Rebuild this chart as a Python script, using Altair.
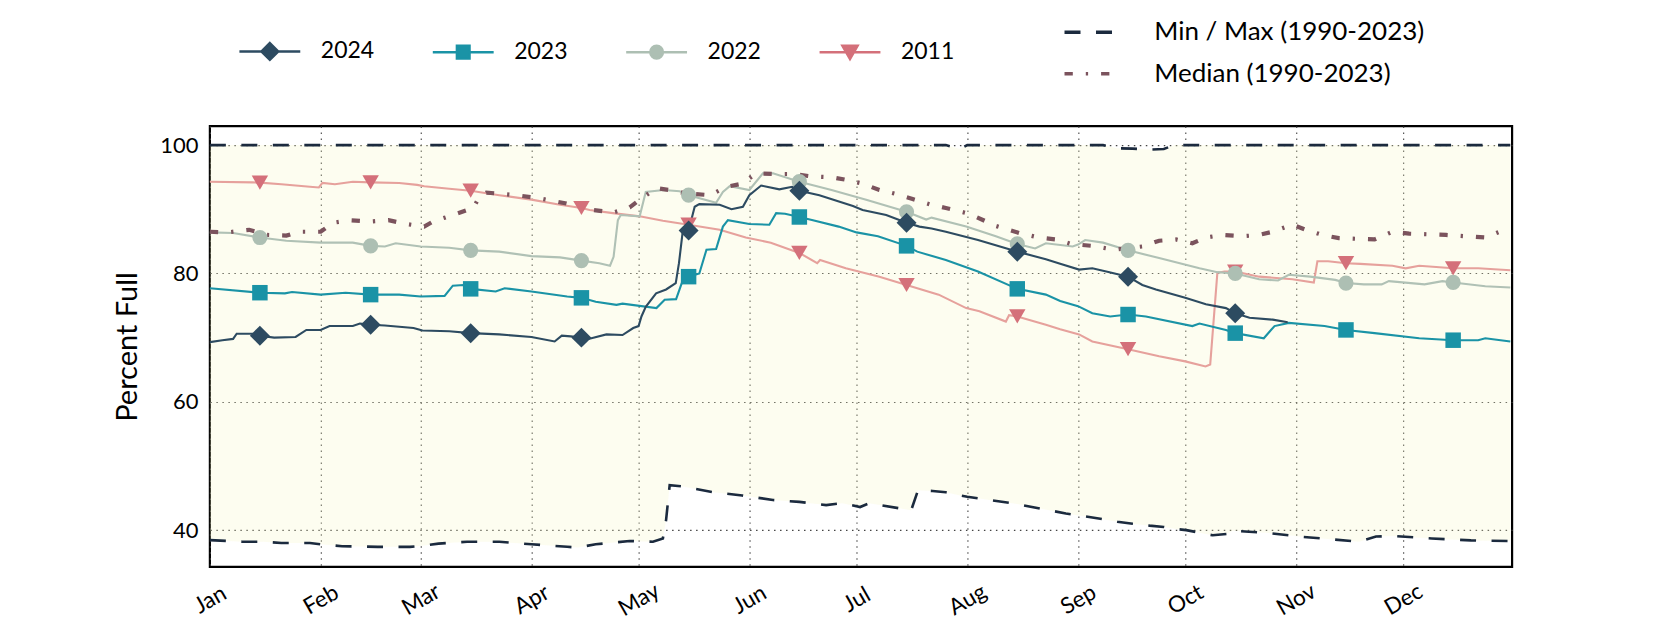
import altair as alt
import pandas as pd

FONT = "Lato"
BASE = pd.Timestamp("2023-01-01")

# ---------------- data (day of year, 0 = Jan 1) ----------------
doy_2024 = [0, 3.5, 6.5, 7.5, 12, 14, 18, 24, 27, 31, 33.5, 40, 42, 45, 49, 57, 59.5, 67, 73, 81,
            90, 96.5, 98.5, 101, 104, 106, 111, 115.5, 118.5, 120, 120.8, 122, 124.9, 127.7, 130.4,
            131.3, 132.3, 134, 135.7, 137, 142.7, 146, 149.2, 151, 154.3, 159.4, 163, 165, 170.6,
            180, 182.7, 189.3, 195, 198.6, 202, 206, 215, 224.7, 226, 234, 238, 243.3, 247, 251.8,
            257, 261, 264.8, 273, 278.8, 284.4, 287, 291, 297.5, 301.7]
pct_2024 = [69.3, 69.6, 69.8, 70.6, 70.6, 70.3, 70.0, 70.1, 71.2, 71.2, 71.8, 71.8, 72.2, 72.0, 71.9,
            71.5, 71.1, 71.0, 70.7, 70.5, 70.1, 69.4, 70.3, 70.2, 70.0, 69.8, 70.5, 70.4, 71.5, 71.8,
            73.3, 74.8, 76.9, 77.5, 78.5, 81.6, 86.3, 86.7, 90.4, 90.8, 90.7, 90.0, 90.4, 92.2, 93.7,
            93.1, 93.5, 92.9, 92.2, 90.5, 89.9, 89.1, 87.9, 87.3, 87.0, 86.5, 85.2, 83.6, 83.4, 82.2,
            81.5, 80.6, 80.8, 80.2, 79.5, 78.2, 77.5, 76.2, 75.2, 74.6, 73.8, 73.1, 72.8, 72.4]

doy_2023 = [0, 14, 21, 23, 31, 38, 45, 53, 59, 65.7, 68, 71, 73, 80, 82.5, 90, 100, 104, 108, 113.8,
            115.5, 125, 127.3, 130.5, 132.4, 134, 137, 139, 141.7, 143.6, 145, 151, 156.6, 158.5,
            161, 165, 168.8, 176, 181, 187, 195, 198, 206, 215, 226, 234, 238, 243, 247, 252, 257,
            262, 275, 277, 284.4, 287, 295, 298, 302, 312, 318, 326, 338.5, 348, 355, 357, 364]
pct_2023 = [77.7, 77.0, 76.9, 77.1, 76.7, 77.0, 76.7, 76.7, 76.4, 76.5, 78.1, 78.2, 77.6, 77.2, 77.7,
            77.2, 76.4, 76.2, 75.6, 75.1, 75.3, 74.6, 75.9, 76.0, 79.0, 79.5, 80.0, 83.7, 83.8, 87.3,
            88.3, 87.7, 87.6, 89.4, 89.3, 88.8, 88.3, 87.3, 86.4, 85.8, 84.3, 83.4, 82.1, 80.3, 77.6,
            76.7, 75.7, 74.9, 73.8, 73.3, 73.6, 73.3, 71.8, 72.2, 71.2, 70.7, 69.9, 71.8, 72.3, 71.8,
            71.2, 70.7, 69.9, 69.6, 69.6, 69.9, 69.4]

doy_2022 = [0, 6.5, 14, 21.4, 31, 40, 45, 49, 52, 59, 67, 73, 81, 90, 98, 104, 109, 112, 113, 114.2,
            115, 120.3, 122, 127, 131.5, 134, 141.7, 143.6, 145.5, 151, 154.8, 157.6, 165, 174,
            183.7, 195, 200.5, 202, 211.7, 220, 226, 231, 234, 241.5, 243, 245, 250, 257, 265.7,
            277, 282, 287, 293.7, 299, 302, 308, 315, 318, 323, 328, 330, 340, 345, 348, 357, 364]
pct_2022 = [86.4, 86.3, 85.6, 85.1, 84.8, 84.8, 84.3, 84.2, 84.7, 84.2, 84.0, 83.6, 83.4, 82.7, 82.5,
            82.0, 81.6, 81.2, 82.6, 88.3, 89.1, 88.9, 92.7, 93.0, 92.8, 92.2, 91.0, 92.7, 93.6, 93.0,
            95.6, 95.6, 94.3, 93.0, 91.5, 89.6, 88.4, 88.7, 87.3, 85.8, 84.6, 83.9, 84.7, 84.2, 84.5,
            85.2, 84.8, 83.6, 82.4, 80.8, 80.2, 80.0, 79.1, 78.9, 79.8, 79.5, 79.0, 78.5, 78.3, 78.3,
            78.8, 78.3, 78.8, 78.6, 78.0, 77.8]

doy_2011 = [0, 12, 14, 20, 28, 30.5, 31.5, 35, 40, 45, 53, 58, 60, 67, 73, 81, 90, 98, 104, 106.3,
            112.8, 120.3, 126.8, 134, 142.7, 150, 157, 165, 170, 170.8, 178, 187.4, 195, 204, 211.7,
            215.4, 222.8, 223.7, 226, 234, 238, 243.3, 247, 257, 265.7, 273, 278.7, 280, 282, 284,
            287, 293.7, 303, 309, 310, 313, 318, 322, 331, 334.7, 338.5, 348, 355, 364]
pct_2011 = [94.3, 94.2, 94.15, 93.9, 93.5, 93.4, 94.1, 93.9, 94.3, 94.2, 94.1, 93.8, 93.6, 93.2, 92.9,
            92.2, 91.5, 90.7, 90.2, 89.9, 89.4, 88.9, 88.2, 87.6, 86.8, 85.6, 84.8, 83.2, 81.6, 82.1,
            80.8, 79.5, 78.2, 76.7, 74.6, 74.1, 72.5, 73.5, 73.3, 72.0, 71.3, 70.5, 69.4, 68.2, 67.1,
            66.3, 65.5, 65.8, 80.1, 80.3, 80.3, 79.5, 79.1, 78.6, 81.9, 81.9, 81.6, 81.5, 81.2, 80.8,
            81.2, 80.8, 80.8, 80.5]

doy_minmax = [0, 9, 15, 20, 28, 31, 37, 47, 56, 60, 64, 72, 81, 90, 100, 103, 108, 117.5, 124, 126.8,
              127.7, 128.7, 132.4, 141, 149, 157.6, 165, 172.5, 177, 182, 184.6, 193, 196.3, 198.2,
              202.3, 206, 210, 212, 225.6, 239.6, 243.3, 250, 254, 258.3, 263, 267, 270, 273.3,
              280.7, 284.6, 286.3, 295.6, 305, 321.7, 326.4, 331, 342, 353, 364]
min_vals = [38.45, 38.2, 38.2, 38.0, 38.0, 37.8, 37.5, 37.4, 37.4, 37.6, 37.9, 38.2, 38.2, 37.8, 37.4,
            37.3, 37.8, 38.3, 38.2, 38.7, 41.6, 47.0, 46.8, 45.9, 45.4, 44.7, 44.4, 43.9, 44.2, 43.6,
            44.2, 43.4, 43.1, 46.2, 46.1, 45.9, 45.4, 45.2, 44.1, 42.6, 42.3, 41.7, 41.3, 41.0, 40.7,
            40.5, 40.2, 40.0, 39.2, 39.4, 39.9, 39.6, 39.0, 38.2, 39.0, 39.1, 38.7, 38.4, 38.3]
max_vals = [100, 100, 100, 100, 100, 100, 100, 100, 100, 100, 100, 100, 100, 100, 100, 100, 100, 100,
            100, 100, 100, 100, 100, 100, 100, 100, 100, 100, 100, 100, 100, 100, 100, 100, 100, 100,
            99.4, 100, 100, 100, 100, 100, 99.5, 99.45, 99.3, 99.4, 100, 100, 100, 100, 100, 100, 100,
            100, 100, 100, 100, 100, 100]

doy_median = [0, 5, 11, 16, 21.4, 25, 31, 34.5, 39, 45, 50, 55, 60, 62.5, 68, 73.7, 75.5, 77.4, 85.8,
              92.3, 99.8, 103.5, 107, 112.8, 115.5, 117.5, 120.3, 125, 129.6, 133, 140, 144.5, 149,
              152.9, 157.6, 163, 168.8, 174, 178, 182.7, 187.4, 192, 196.7, 201.4, 206, 212.6, 220,
              226.6, 232, 236.9, 241, 247, 253, 261, 265.7, 270.4, 275, 278.8, 283.5, 289, 293.7,
              297.5, 303, 306.8, 311.4, 316, 326, 331, 335.7, 346, 357, 361, 364]
median_vals = [86.5, 86.4, 86.8, 86.0, 85.9, 86.5, 86.5, 87.9, 88.3, 88.1, 88.3, 87.7, 87.3, 88.1,
               89.1, 90.2, 92.0, 92.6, 92.2, 91.7, 90.9, 90.4, 89.9, 89.5, 89.9, 90.3, 91.5, 93.3,
               92.9, 92.5, 92.2, 93.5, 94.0, 95.6, 95.5, 95.5, 95.1, 95.0, 94.6, 94.0, 93.0, 92.4,
               91.6, 90.8, 90.2, 89.3, 87.4, 86.3, 85.6, 85.3, 84.6, 84.3, 83.7, 84.2, 85.1, 85.3,
               84.7, 85.6, 86.0, 85.8, 86.0, 86.5, 87.6, 86.8, 86.0, 85.5, 85.3, 86.5, 86.2, 86.0,
               85.6, 86.5, 86.5]

YEARS = ["2024", "2023", "2022", "2011"]
STATS = ["Min / Max (1990-2023)", "Median (1990-2023)"]
y_ticks = [40, 60, 80, 100]

# ---------------- styles ----------------
MARKER_COLORS = ["#2d4b61", "#1a93a6", "#adbfb3", "#d4707a"]
LINE_COLORS = {"2024": "#2d4b61", "2023": "#1a93a6", "2022": "#b0c1b5", "2011": "#e6a19c"}
MARK_STYLE = {"2024": ("diamond", 400), "2023": ("square", 240), "2022": ("circle", 230),
              "2011": ("triangle-down", 270)}
SEG = "M-2.9,0H2.9"
LEGEND_PATHS = [
    SEG + "M0,-0.8L0.8,0L0,0.8L-0.8,0Z",
    SEG + "M-0.6,-0.6H0.6V0.6H-0.6Z",
    SEG + "M0.6,0A0.6,0.6,0,1,1,-0.6,0A0.6,0.6,0,1,1,0.6,0Z",
    SEG + "M-0.72,-0.6H0.72L0,0.65Z",
]
STAT_COLORS = ["#1b2a3e", "#7b535d"]
STAT_DASH = [[16, 15.5], [8.3, 13, 2.3, 13]]


def to_dates(days):
    return [BASE + pd.Timedelta(days=d) for d in days]


series = {"2024": (doy_2024, pct_2024), "2023": (doy_2023, pct_2023),
          "2022": (doy_2022, pct_2022), "2011": (doy_2011, pct_2011)}
frames = []
for yr, (d, v) in series.items():
    frames.append(pd.DataFrame({"date": to_dates(d), "pct": v, "year": yr}))
years_df = pd.concat(frames, ignore_index=True)
years_df["marker"] = (years_df["date"].dt.day == 15) & (years_df["date"].dt.hour == 0)

mm_dates = to_dates(doy_minmax)
band_df = pd.DataFrame({"date": mm_dates, "max": max_vals, "min": min_vals})
mm_long = pd.concat([
    pd.DataFrame({"date": mm_dates, "pct": min_vals, "which": "min", "stat": STATS[0]}),
    pd.DataFrame({"date": mm_dates, "pct": max_vals, "which": "max", "stat": STATS[0]}),
], ignore_index=True)
med_df = pd.DataFrame({"date": to_dates(doy_median), "pct": median_vals, "stat": STATS[1]})

# ---------------- encodings ----------------
month_vals = [alt.DateTime(year=2023, month=m, date=1) for m in range(1, 13)]
x_scale = alt.Scale(domain=[alt.DateTime(year=2023, month=1, date=1),
                            alt.DateTime(year=2023, month=12, date=31, hours=12)])
x_axis = alt.Axis(values=month_vals, format="%b", labelAngle=330, labelAlign="center",
                  labelBaseline="middle", labelPadding=32.5, ticks=False, domain=False,
                  grid=True, gridDash=[1.5, 4.5], gridColor="#444444", gridWidth=1.1,
                  labelFont=FONT, labelFontSize=22.5, labelColor="black", title=None)
y_scale = alt.Scale(domain=[34.28, 102.96], nice=False, zero=False)
y_axis = alt.Axis(values=y_ticks, ticks=False, domain=False, grid=True, gridDash=[1.5, 4.5],
                  gridColor="#444444", gridWidth=1.1, labelFont=FONT, labelFontSize=22,
                  labelColor="black", labelPadding=12, titleFont=FONT, titleFontSize=29,
                  titleFontWeight="normal", titleColor="black", titlePadding=17)


def X():
    return alt.X("date:T", scale=x_scale, axis=x_axis, title=None)


def Y(field="pct"):
    return alt.Y(f"{field}:Q", scale=y_scale, axis=y_axis, title="Percent Full")


year_legend = alt.Legend(title=None, orient="none", legendX=48, legendY=-87, direction="horizontal",
                         symbolSize=441, symbolStrokeWidth=2.5, symbolOpacity=1,
                         labelFont=FONT, labelFontSize=23, labelColor="black", labelOffset=39,
                         labelLimit=400, columnPadding=52.5, padding=0)
stat_legend = alt.Legend(title=None, orient="none", legendX=866, legendY=-107, direction="vertical",
                         symbolType="M-2.385,0H2.385", symbolSize=400, symbolStrokeWidth=3.5,
                         labelFont=FONT, labelFontSize=26, labelColor="black", labelOffset=53,
                         labelLimit=600, rowPadding=15.5, padding=0)

fill_scale = alt.Scale(domain=YEARS, range=MARKER_COLORS)
stroke_scale = alt.Scale(domain=YEARS, range=MARKER_COLORS)
shape_scale = alt.Scale(domain=YEARS, range=LEGEND_PATHS)
stat_color = alt.Color("stat:N", scale=alt.Scale(domain=STATS, range=STAT_COLORS), legend=stat_legend)
stat_dash = alt.StrokeDash("stat:N", scale=alt.Scale(domain=STATS, range=STAT_DASH), legend=stat_legend)

# ---------------- layers ----------------
# legend-only layer (no marks drawn): carries the year legend
legend_layer = alt.Chart(years_df).transform_filter("false").mark_point(
    filled=True, opacity=1).encode(
    x=X(), y=Y(),
    fill=alt.Fill("year:N", scale=fill_scale, legend=year_legend),
    stroke=alt.Stroke("year:N", scale=stroke_scale, legend=year_legend),
    shape=alt.Shape("year:N", scale=shape_scale, legend=year_legend),
)

band = alt.Chart(band_df).mark_area(color="#f7f7c5", opacity=0.25).encode(
    x=X(), y=Y("max"), y2="min:Q")

minmax = alt.Chart(mm_long).mark_line(strokeWidth=2.6).encode(
    x=X(), y=Y(), color=stat_color, strokeDash=stat_dash, detail="which:N")

median = alt.Chart(med_df).mark_line(strokeWidth=4.2).encode(
    x=X(), y=Y(), color=stat_color, strokeDash=stat_dash)

year_lines = []
for yr in ["2011", "2022", "2023", "2024"]:
    year_lines.append(
        alt.Chart(years_df).transform_filter(alt.datum.year == yr)
        .mark_line(color=LINE_COLORS[yr], strokeWidth=2.1)
        .encode(x=X(), y=Y())
    )

markers = []
for yr in ["2011", "2022", "2023", "2024"]:
    shp, sz = MARK_STYLE[yr]
    markers.append(
        alt.Chart(years_df)
        .transform_filter((alt.datum.year == yr) & alt.datum.marker)
        .mark_point(shape=shp, size=sz, filled=True, opacity=1, strokeWidth=0)
        .encode(x=X(), y=Y(), fill=alt.Fill("year:N", scale=fill_scale, legend=None))
    )

chart = alt.layer(legend_layer, band, minmax, *year_lines, median, *markers).properties(
    width=1303, height=441,
    autosize=alt.AutoSizeParams(type="none"),
    padding={"left": 202, "top": 118, "right": 160, "bottom": 55},
    background="white",
).configure_view(stroke="black", strokeWidth=2.2)

chart.save("out.html", embed_options={"renderer": "svg", "actions": False})
